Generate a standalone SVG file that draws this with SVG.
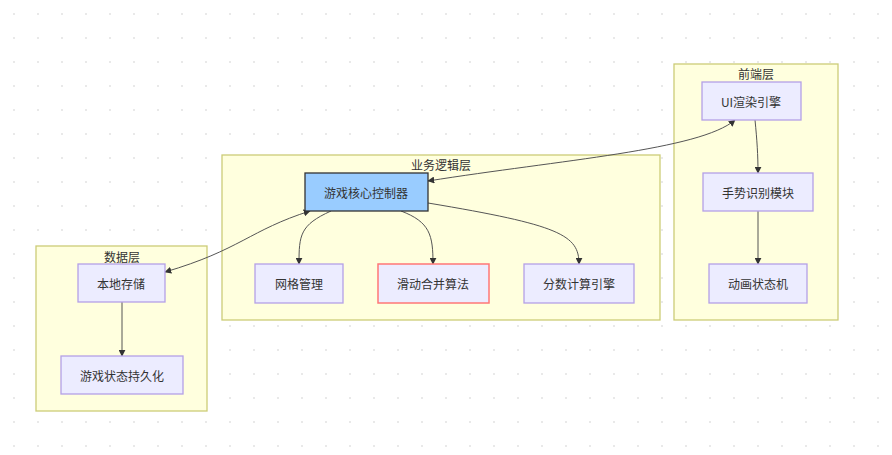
<svg xmlns="http://www.w3.org/2000/svg" width="892" height="455" viewBox="0 0 892 455">
<defs>
<pattern id="dots" width="24" height="24" patternUnits="userSpaceOnUse" x="2" y="2"><circle cx="12" cy="12" r="1" fill="#e2e2e2"/></pattern>
<marker id="ah" viewBox="0 0 10 10" refX="9" refY="5" markerWidth="7" markerHeight="7" orient="auto-start-reverse"><path d="M0,0L10,5L0,10z" fill="#333"/></marker>
<style>
.cl{fill:#ffffde;stroke:#cccc77;stroke-width:1.3}
.n{fill:#ececff;stroke:#b4a0e6;stroke-width:1.3}
.t{font-family:"Noto Sans CJK SC","Liberation Sans",sans-serif;font-size:12px;fill:#333;text-anchor:middle;dominant-baseline:central}
.e{fill:none;stroke:#555;stroke-width:1}
</style>
</defs>
<rect width="892" height="455" fill="#fff"/>
<rect width="892" height="455" fill="url(#dots)"/>
<g id="cluster-data"><rect class="cl" x="36" y="246" width="171" height="165"/><text class="t" x="122" y="256">数据层</text></g>
<g id="cluster-logic"><rect class="cl" x="222" y="155" width="438" height="165"/><text class="t" x="441" y="164">业务逻辑层</text></g>
<g id="cluster-front"><rect class="cl" x="674" y="64" width="164" height="256"/><text class="t" x="756" y="73">前端层</text></g>
<g id="connectors">
<path class="e" d="M165,272 C240,250 250,230 310,211" marker-start="url(#ah)" marker-end="url(#ah)"/>
<path class="e" d="M428,181 C560,160 700,150 735,120" marker-start="url(#ah)" marker-end="url(#ah)"/>
<path class="e" d="M331,211 C300,225 299,235 299,264" marker-end="url(#ah)"/>
<path class="e" d="M401,211 C430,222 433,235 433,264" marker-end="url(#ah)"/>
<path class="e" d="M428,203 C560,225 579,235 579,264" marker-end="url(#ah)"/>
<path class="e" d="M755,120 C757,140 758,155 758,173" marker-end="url(#ah)"/>
<path class="e" d="M758,211 L758,264" marker-end="url(#ah)"/>
<path class="e" d="M122,302 L122,356" marker-end="url(#ah)"/>
</g>
<g id="node-storage"><rect class="n" x="78" y="264" width="87" height="38"/><text class="t" x="121" y="283">本地存储</text></g>
<g id="node-persist"><rect class="n" x="61" y="356" width="122" height="38"/><text class="t" x="122" y="375">游戏状态持久化</text></g>
<g id="node-core"><rect x="305" y="173" width="123" height="38" fill="#99ccff" stroke="#333" stroke-width="1.3"/><text class="t" x="366" y="192">游戏核心控制器</text></g>
<g id="node-grid"><rect class="n" x="255" y="264" width="88" height="39"/><text class="t" x="299" y="283">网格管理</text></g>
<g id="node-merge"><rect x="378" y="264" width="111" height="39" fill="#ececff" stroke="#ff7777" stroke-width="1.5"/><text class="t" x="433" y="283">滑动合并算法</text></g>
<g id="node-score"><rect class="n" x="524" y="264" width="110" height="39"/><text class="t" x="579" y="283">分数计算引擎</text></g>
<g id="node-ui"><rect class="n" x="702" y="82" width="99" height="38"/><text class="t" x="751" y="101">UI渲染引擎</text></g>
<g id="node-gesture"><rect class="n" x="703" y="173" width="110" height="38"/><text class="t" x="758" y="192">手势识别模块</text></g>
<g id="node-anim"><rect class="n" x="709" y="264" width="98" height="39"/><text class="t" x="758" y="283">动画状态机</text></g>
</svg>
